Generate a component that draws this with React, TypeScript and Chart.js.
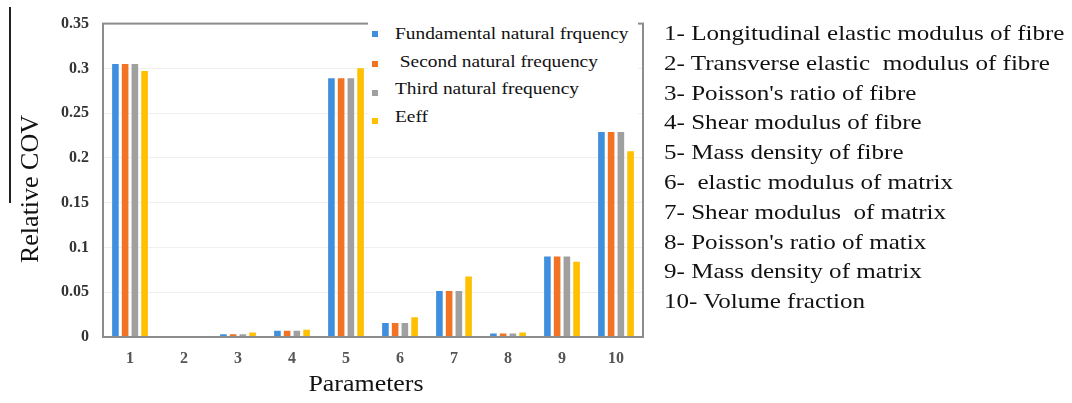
import React, { useEffect, useRef } from "react";
import { Chart, registerables } from "chart.js";

Chart.register(...registerables);

const categories = ["1", "2", "3", "4", "5", "6", "7", "8", "9", "10"];
const seriesNames = [
  "Fundamental natural frquency",
  " Second natural frequency",
  "Third natural frequency",
  "Eeff",
];
const fundamental = [0.305, 0, 0.003, 0.007, 0.289, 0.0155, 0.0515, 0.004, 0.09, 0.23];
const second = [0.305, 0, 0.003, 0.007, 0.289, 0.0155, 0.0515, 0.004, 0.09, 0.23];
const third = [0.305, 0, 0.003, 0.007, 0.289, 0.0155, 0.0515, 0.004, 0.09, 0.23];
const eeff = [0.297, 0, 0.005, 0.008, 0.3, 0.022, 0.0675, 0.005, 0.084, 0.2075];
const colors = ["#3f8fde", "#f27322", "#a0a0a0", "#ffc000"];
const yTicks = [0, 0.05, 0.1, 0.15, 0.2, 0.25, 0.3, 0.35];
const yTickLabels = ["0", "0.05", "0.1", "0.15", "0.2", "0.25", "0.3", "0.35"];
const xTitle = "Parameters";
const yTitle = "Relative COV";
const parameterNotes = [
  "1- Longitudinal elastic modulus of fibre",
  "2- Transverse elastic  modulus of fibre",
  "3- Poisson's ratio of fibre",
  "4- Shear modulus of fibre",
  "5- Mass density of fibre",
  "6-  elastic modulus of matrix",
  "7- Shear modulus  of matrix",
  "8- Poisson's ratio of matix",
  "9- Mass density of matrix",
  "10- Volume fraction",
];

const SERIF = "'Liberation Serif', 'Times New Roman', serif";

const frame = {
  id: "frame",
  afterDraw(chart: any) {
    const { ctx, chartArea } = chart;
    ctx.save();
    ctx.strokeStyle = "#8c8c8c";
    ctx.lineWidth = 2;
    ctx.strokeRect(chartArea.left, chartArea.top, chartArea.right - chartArea.left, chartArea.bottom - chartArea.top);
    ctx.restore();
  },
};

const stretch = { display: "inline-block", transform: "scaleX(1.14)", transformOrigin: "left center" } as const;

export default function App() {
  const ref = useRef<HTMLCanvasElement | null>(null);
  useEffect(() => {
    document.body.style.margin = "0";
    const data = [fundamental, second, third, eeff];
    const chart = new Chart(ref.current as HTMLCanvasElement, {
      type: "bar",
      data: {
        labels: categories,
        datasets: data.map((d, i) => ({
          label: seriesNames[i],
          data: d,
          backgroundColor: colors[i],
          categoryPercentage: 0.72,
          barPercentage: 0.68,
        })),
      },
      plugins: [frame],
      options: {
        animation: false,
        responsive: false,
        devicePixelRatio: 1,
        layout: { padding: { left: 0, right: 429, top: 16, bottom: 0 } },
        plugins: { legend: { display: false }, tooltip: { enabled: false } },
        scales: {
          x: {
            grid: { display: false, drawTicks: false },
            border: { display: false },
            ticks: {
              padding: 12,
              color: "#555",
              font: { family: SERIF, size: 16, weight: "bold" },
            },
            afterFit: (s: any) => {
              s.height = 66;
            },
          },
          y: {
            min: 0,
            max: 0.35,
            afterBuildTicks: (s: any) => {
              s.ticks = yTicks.map((v) => ({ value: v }));
            },
            grid: { color: "#efefef", drawTicks: false },
            border: { display: false },
            ticks: {
              padding: 14,
              color: "#333",
              font: { family: SERIF, size: 16, weight: "bold" },
              callback: (v: any) => yTickLabels[yTicks.indexOf(Number(v))] ?? "",
            },
            afterFit: (s: any) => {
              s.width = 103;
            },
          },
        },
      },
    });
    return () => chart.destroy();
  }, []);

  return (
    <div style={{ position: "relative", width: 1072, height: 403, background: "#fff", fontFamily: SERIF, color: "#111" }}>
      <canvas ref={ref} width={1072} height={403} style={{ position: "absolute", left: 0, top: 0 }} />
      <div style={{ position: "absolute", left: 9, top: 7, width: 1.5, height: 196, background: "#222" }} />
      <div
        style={{
          position: "absolute",
          left: 30,
          top: 189,
          transform: "translate(-50%, -50%) rotate(-90deg)",
          fontSize: 26,
          whiteSpace: "nowrap",
        }}
      >
        {yTitle}
      </div>
      <div style={{ position: "absolute", left: 366, top: 383, transform: "translate(-50%, -50%) scaleX(1.08)", fontSize: 24, whiteSpace: "nowrap" }}>
        {xTitle}
      </div>
      <div style={{ position: "absolute", left: 368, top: 20, width: 270, height: 112, background: "#fff" }}>
        {seriesNames.map((n, i) => (
          <div key={n} style={{ position: "absolute", left: 0, top: [4, 32, 59, 87][i], height: 20, whiteSpace: "pre", fontSize: 17, lineHeight: "20px" }}>
            <span style={{ position: "absolute", left: 4, top: [7, 9, 11, 11][i], width: 6, height: 6, background: colors[i] }} />
            <span style={{ position: "absolute", left: 27 }}>
              <span style={stretch}>{n}</span>
            </span>
          </div>
        ))}
      </div>
      {parameterNotes.map((t, i) => (
        <div
          key={t}
          style={{ position: "absolute", left: 664, top: 20 + i * 29.8, fontSize: 22, lineHeight: "26px", whiteSpace: "pre" }}
        >
          <span style={stretch}>{t}</span>
        </div>
      ))}
    </div>
  );
}
